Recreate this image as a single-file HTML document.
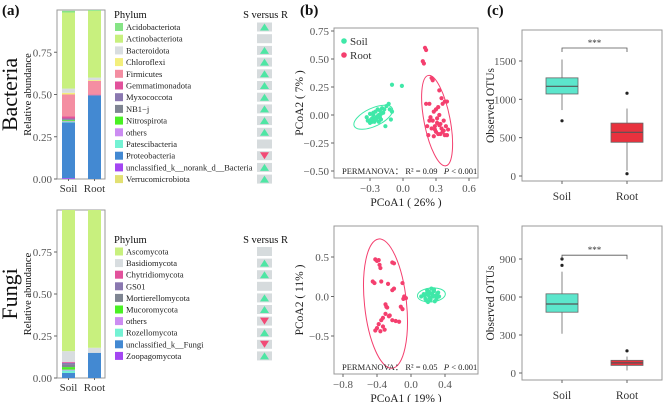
<!DOCTYPE html>
<html><head><meta charset="utf-8"><style>
body{margin:0;background:#fff}
svg{display:block}
svg text{font-family:"Liberation Serif","DejaVu Serif",serif}
</style></head><body>
<svg id="fig" width="669" height="402" viewBox="0 0 669 402" xmlns="http://www.w3.org/2000/svg" font-family="Liberation Serif, serif"></svg>
<script>
// ---------- DATA ----------
const bacCats=["Acidobacteriota","Actinobacteriota","Bacteroidota","Chloroflexi","Firmicutes","Gemmatimonadota","Myxococcota","NB1\u2212j","Nitrospirota","others","Patescibacteria","Proteobacteria","unclassified_k__norank_d__Bacteria","Verrucomicrobiota"];
const bacColors=["#86e486","#c8f07e","#d8dde0","#f3ef7c","#f48ea2","#e2529c","#8a78b0","#7f8592","#4af024","#cc8cf2","#74f2d4","#4389d2","#a446f2","#e2e072"];
const bacSoil=[0.01,0.45,0.025,0.01,0.13,0.012,0.005,0.005,0.006,0.004,0.003,0.33,0.005,0.0];
const bacRoot=[0.005,0.395,0.015,0.005,0.08,0.002,0.005,0.0,0.0,0.0,0.0,0.493,0.0,0.0];
const bacSig=["up","none","up","up","up","up","up","up","up","up","none","down","up","up"];
const funCats=["Ascomycota","Basidiomycota","Chytridiomycota","GS01","Mortierellomycota","Mucoromycota","others","Rozellomycota","unclassified_k__Fungi","Zoopagomycota"];
const funColors=["#c8f07e","#d8dde0","#e2529c","#8a78b0","#7f8592","#4af024","#cc8cf2","#74f2d4","#4389d2","#a446f2"];
const funSoil=[0.84,0.065,0.005,0.01,0.015,0.015,0.005,0.015,0.03,0.0];
const funRoot=[0.82,0.03,0.0,0.0,0.0,0.0,0.0,0.0,0.15,0.0];
const funSig=["none","up","up","none","up","up","down","up","down","up"];
const yTicksAbund=[0,0.25,0.5,0.75];

const pcoaTopSoilX=[-0.33,-0.31,-0.30,-0.29,-0.28,-0.27,-0.26,-0.25,-0.24,-0.23,-0.22,-0.21,-0.20,-0.19,-0.18,-0.30,-0.28,-0.26,-0.24,-0.22,-0.20,-0.27,-0.25,-0.23,-0.29,-0.17,-0.15,-0.13,-0.12,-0.10,-0.11,-0.01,-0.16,-0.10,-0.32,-0.21];
const pcoaTopSoilY=[-0.02,-0.05,0.01,-0.06,-0.03,0.02,-0.05,0.03,-0.02,0.05,0.00,0.04,-0.04,0.06,0.02,-0.07,-0.06,-0.06,-0.04,-0.06,0.01,0.00,-0.03,-0.01,-0.04,0.05,0.08,0.10,0.05,0.03,-0.04,0.26,-0.10,0.27,-0.05,-0.02];
const pcoaTopRootX=[0.20,0.21,0.18,0.19,0.26,0.27,0.33,0.35,0.38,0.21,0.24,0.30,0.28,0.32,0.36,0.40,0.25,0.27,0.31,0.33,0.34,0.37,0.22,0.29,0.35,0.39,0.41,0.30,0.32,0.36,0.38,0.26,0.28,0.34,0.23,0.31,0.37,0.40,0.24,0.29,0.33];
const pcoaTopRootY=[0.60,0.58,0.48,0.46,0.33,0.31,0.22,0.15,0.12,0.10,0.10,0.05,0.03,0.07,0.10,0.12,-0.02,-0.05,-0.03,0.00,-0.08,-0.05,-0.10,-0.10,-0.12,-0.10,-0.13,-0.15,-0.17,-0.15,-0.18,-0.12,-0.19,-0.17,-0.18,-0.07,-0.14,-0.18,-0.05,-0.13,-0.09];
const pcoaBotRootX=[-0.42,-0.40,-0.38,-0.37,-0.36,-0.22,-0.20,-0.45,-0.43,-0.35,-0.27,-0.22,-0.20,-0.10,-0.08,-0.06,-0.09,-0.30,-0.29,-0.28,-0.12,-0.10,-0.30,-0.33,-0.25,-0.22,-0.35,-0.38,-0.33,-0.31,-0.40,-0.42,-0.14,-0.26,-0.18,-0.36];
const pcoaBotRootY=[0.47,0.45,0.46,0.40,0.36,0.43,0.42,0.19,0.17,0.19,0.16,0.08,0.10,0.17,0.00,-0.02,-0.03,-0.10,-0.13,-0.14,-0.13,-0.16,-0.22,-0.27,-0.24,-0.30,-0.30,-0.35,-0.38,-0.42,-0.40,-0.43,-0.32,-0.25,-0.31,-0.44];
const pcoaBotSoilX=[0.12,0.15,0.17,0.19,0.20,0.22,0.24,0.25,0.27,0.29,0.30,0.32,0.18,0.21,0.23,0.26,0.28,0.31,0.16,0.20,0.24,0.27,0.33,0.22,0.19];
const pcoaBotSoilY=[0.00,0.03,-0.03,0.08,0.02,-0.02,0.10,0.03,0.07,0.01,-0.03,0.05,-0.05,0.06,-0.04,0.00,-0.06,0.04,0.01,-0.07,0.04,0.09,0.00,-0.01,0.05];
const topXTicks=[-0.3,0,0.3,0.6], topYTicks=[-0.5,-0.25,0,0.25,0.5,0.75];
const botXTicks=[-0.8,-0.4,0,0.4], botYTicks=[-0.5,0,0.5];

const groups=["Soil","Root"];
// box stats: [min whisker, q1, median, q3, max whisker]
const otuTopSoil=[860,1070,1170,1280,1520], otuTopRoot=[70,440,570,690,880];
const otuTopOutSoil=[720], otuTopOutRoot=[1080,30];
const otuBotSoil=[310,480,545,625,800], otuBotRoot=[20,60,80,100,130];
const otuBotOutSoil=[850,900], otuBotOutRoot=[175];
const otuTopTicks=[0,500,1000,1500], otuBotTicks=[0,300,600,900];

// ---------- HELPERS ----------
const svg=document.getElementById('fig');
const NS="http://www.w3.org/2000/svg";
function el(tag,attrs,parent){const e=document.createElementNS(NS,tag);for(const k in attrs)e.setAttribute(k,attrs[k]);(parent||svg).appendChild(e);return e;}
function txt(x,y,s,size,anchor,parent,extra){const t=el('text',Object.assign({x:x,y:y,'font-size':size,'text-anchor':anchor||'start',fill:'#333','font-family':'Liberation Serif, DejaVu Serif, serif'},extra||{}),parent);t.textContent=s;return t;}
const lin=(d0,d1,r0,r1)=>v=>r0+(v-d0)*(r1-r0)/(d1-d0);

// panel labels
[["(a)",2,15],["(b)",300,15],["(c)",487,15]].forEach(p=>{const t=txt(p[1],p[2],p[0],15,'start',null,{'font-weight':'bold',fill:'#111'});});

// ---------- (a) stacked bars ----------
function stacked(top,bottom,title,cats,colors,soil,root,sig,legTop,legStep,phylumY){
  const g=el('g',{});
  
  
  const y=lin(0,1,bottom,top);
  el('rect',{x:57,y:top,width:48,height:bottom-top,fill:'#fff',stroke:'#999','stroke-width':1},g);
  yTicksAbund.forEach(v=>{el('line',{x1:54,x2:57,y1:y(v),y2:y(v),stroke:'#666'},g);const t=txt(52,y(v)+4,v.toFixed(2),11,'end',g,{fill:'#555'});});
  const yl=txt(0,0,'Relative abundance',10.5,'middle',g,{transform:`translate(31,${(top+bottom)/2}) rotate(-90)`,fill:'#111'});
  
  const tt=txt(0,0,title,22,'middle',g,{transform:`translate(17,${(top+bottom)/2}) rotate(-90)`,fill:'#111'});
  
  [[soil,62,'Soil'],[root,88,'Root']].forEach(([vals,x0,lab])=>{
    let acc=0;
    for(let i=vals.length-1;i>=0;i--){const v=vals[i];if(v<=0)continue;
      const r=el('rect',{x:x0,y:y(acc+v),width:13,height:y(acc)-y(acc+v),fill:colors[i]},g);
      acc+=v;}
    const l=txt(x0+6.5,bottom+13,lab,11,'middle',g,{fill:'#333'});
    el('line',{x1:x0+6.5,x2:x0+6.5,y1:bottom,y2:bottom+2,stroke:'#666'},g);
  });
  const ph=txt(114,phylumY,'Phylum',10.5,'start',g,{fill:'#111'});
  const sv=txt(288,phylumY,'S versus R',10.5,'end',g,{fill:'#111'});
  cats.forEach((c,i)=>{const cy=legTop+i*legStep;
    const sw=el('rect',{x:115,y:cy-4,width:8,height:8,fill:colors[i]},g);
    const t=txt(126,cy+3,c,8.5,'start',g,{fill:'#222'});
    const b=el('rect',{x:257,y:cy-4.5,width:15,height:9,fill:'#d6dbdd'},g);
    if(sig[i]==='up')el('polygon',{points:`${264.5},${cy-3.5} ${260},${cy+3.5} ${269},${cy+3.5}`,fill:'#4ee6a4'},g);
    if(sig[i]==='down')el('polygon',{points:`${264.5},${cy+3.5} ${260},${cy-3.5} ${269},${cy-3.5}`,fill:'#f24a76'},g);
  });
}
stacked(10,179,'Bacteria',bacCats,bacColors,bacSoil,bacRoot,bacSig,27,11.7,18);
stacked(210,378,'Fungi',funCats,funColors,funSoil,funRoot,funSig,251.5,11.6,243);

// ---------- (b) PCoA ----------
function pcoa(box,xd,yd,xt,yt,xFmt,yFmt,xlab,ylab,r2,sets,ells,legend){
  const g=el('g',{});
  
  
  const x=lin(xd[0],xd[1],xd[2],xd[3]), y=lin(yd[0],yd[1],yd[2],yd[3]);
  el('rect',{x:box[0],y:box[1],width:box[2]-box[0],height:box[3]-box[1],fill:'#fff',stroke:'#999'},g);
  xt.forEach(v=>{el('line',{x1:x(v),x2:x(v),y1:box[3],y2:box[3]+3,stroke:'#666'},g);const t=txt(x(v),box[3]+14,xFmt(v),11,'middle',g,{fill:'#555'});});
  yt.forEach(v=>{el('line',{x1:box[0]-3,x2:box[0],y1:y(v),y2:y(v),stroke:'#666'},g);const t=txt(box[0]-5,y(v)+4,yFmt(v),11,'end',g,{fill:'#555'});});
  const xl=txt((box[0]+box[2])/2,box[3]+28,xlab,11.5,'middle',g,{fill:'#222'});
  const yl=txt(0,0,ylab,11.5,'middle',g,{transform:`translate(${box[0]-31},${(box[1]+box[3])/2}) rotate(-90)`,fill:'#222'});
  ells.forEach(e=>{const p=el('ellipse',{cx:x(e[0]),cy:y(e[1]),rx:e[2],ry:e[3],transform:`rotate(${e[4]} ${x(e[0])} ${y(e[1])})`,fill:'none',stroke:e[5],'stroke-width':1},g);});
  sets.forEach(s=>{s[0].forEach((v,i)=>{const c=el('circle',{cx:x(v),cy:y(s[1][i]),r:2.1,fill:s[2]},g);});});
  const pt=el('text',{x:box[0]+8,y:box[3]-4,'font-size':8.5,fill:'#222','font-family':'Liberation Serif, DejaVu Serif, serif'},g);
  pt.innerHTML=`PERMANOVA\uff1a R\u00b2 = ${r2}&#160;&#160;&#160;<tspan font-style="italic">P</tspan> &lt; 0.001`;
  
  if(legend){[['Soil','#3fe8a8',41],['Root','#f43f6e',55]].forEach(l=>{const c=el('circle',{cx:box[0]+10,cy:l[2],r:2.8,fill:l[1]},g);const t=txt(box[0]+16,l[2]+4,l[0],11,'start',g,{fill:'#333'});});}
}
const f2=v=>(v<0?'\u2212':'')+Math.abs(v).toFixed(2);
const f1=v=>(v<0?'\u2212':'')+Math.abs(v).toFixed(1);
pcoa([334,28,478,178],[-0.3,0.6,370,469],[0,0.5,115,59],topXTicks,topYTicks,f1,f2,'PCoA1 ( 26% )','PCoA2 ( 7% )','0.09',
  [[pcoaTopSoilX,pcoaTopSoilY,'#3fe8a8','soil'],[pcoaTopRootX,pcoaTopRootY,'#f43f6e','root']],
  [[-0.27,-0.02,21,9,-25,'#3fe8a8'],[0.31,-0.05,13,46,-11,'#f43f6e']],true);
pcoa([334,226,478,374],[-0.8,0.4,343,445],[-0.5,0.5,336,257],botXTicks,botYTicks,f1,f1,'PCoA1 ( 19% )','PCoA2 ( 11% )','0.05',
  [[pcoaBotRootX,pcoaBotRootY,'#f43f6e','root'],[pcoaBotSoilX,pcoaBotSoilY,'#3fe8a8','soil']],
  [[-0.3,-0.09,21,65,-6,'#f43f6e'],[0.24,0.02,14,7,-5,'#3fe8a8']],false);

// ---------- (c) boxplots ----------
function boxes(box,yd,ticks,soil,root,outS,outR,bracketV){
  const g=el('g',{});
  
  
  const y=lin(yd[0],yd[1],yd[2],yd[3]);
  el('rect',{x:box[0],y:box[1],width:box[2]-box[0],height:box[3]-box[1],fill:'#fff',stroke:'#999'},g);
  ticks.forEach(v=>{el('line',{x1:box[0]-3,x2:box[0],y1:y(v),y2:y(v),stroke:'#666'},g);const t=txt(box[0]-6,y(v)+4,String(v),11,'end',g,{fill:'#555'});});
  const yl=txt(0,0,'Observed OTUs',11.5,'middle',g,{transform:`translate(${box[0]-28},${(box[1]+box[3])/2}) rotate(-90)`,fill:'#222'});
  const xs=[562,627];
  [[soil,outS,'#5ce6cc'],[root,outR,'#e8323e']].forEach((d,i)=>{const s=d[0],cx=xs[i];
    el('line',{x1:cx,x2:cx,y1:y(s[0]),y2:y(s[4]),stroke:'#999','stroke-width':1.2},g);
    const r=el('rect',{x:cx-16,y:y(s[3]),width:32,height:y(s[1])-y(s[3]),fill:d[2],stroke:'#666','stroke-width':0.8},g);
    
    el('line',{x1:cx-16,x2:cx+16,y1:y(s[2]),y2:y(s[2]),stroke:'#555','stroke-width':1.2},g);
    d[1].forEach(o=>{const c=el('circle',{cx:cx,cy:y(o),r:1.6,fill:'#222'},g);});
    el('line',{x1:cx,x2:cx,y1:box[3],y2:box[3]+3,stroke:'#666'},g);
    const t=txt(cx,box[3]+19,groups[i],11.5,'middle',g,{fill:'#333'});
  });
  const by=y(bracketV);
  el('path',{d:`M${xs[0]},${by+4}V${by}H${xs[1]}V${by+4}`,fill:'none',stroke:'#555','stroke-width':0.8},g);
  const st=txt((xs[0]+xs[1])/2,by-2,'***',9,'middle',g,{fill:'#333'});
}
boxes([522,30,662,181],[0,1500,176,61],otuTopTicks,otuTopSoil,otuTopRoot,otuTopOutSoil,otuTopOutRoot,1670);
boxes([522,226,662,380],[0,900,373,259],otuBotTicks,otuBotSoil,otuBotRoot,otuBotOutSoil,otuBotOutRoot,930);
</script>
</body></html>
